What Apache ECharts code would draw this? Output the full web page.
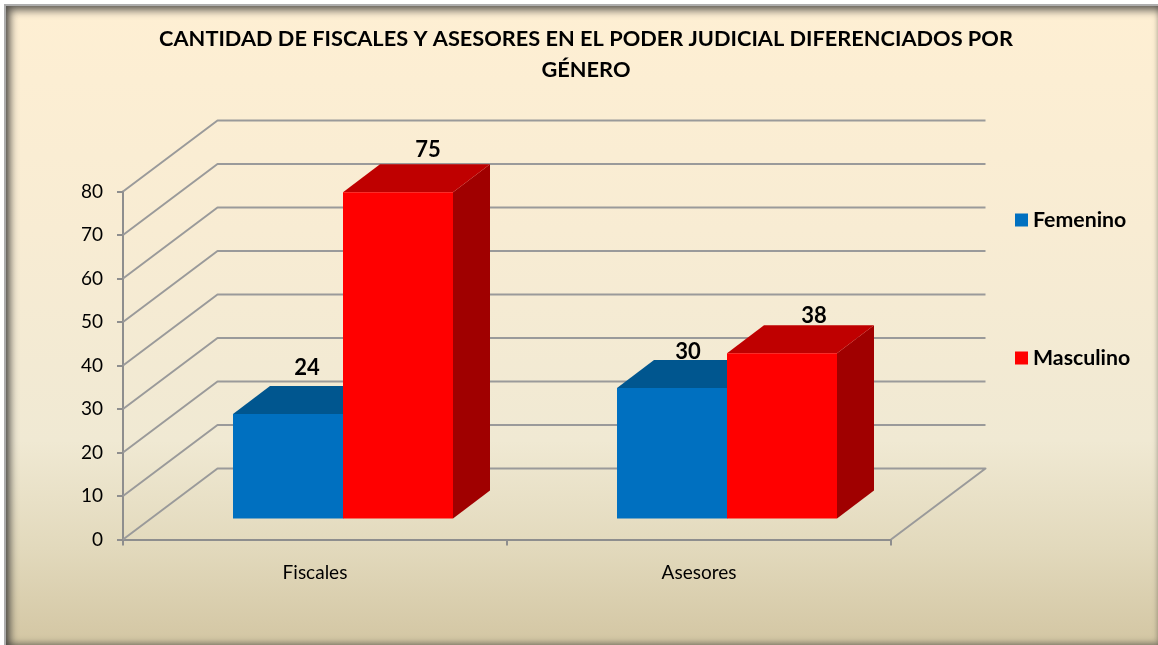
<!DOCTYPE html>
<html>
<head>
<meta charset="utf-8">
<style>
html,body{margin:0;padding:0;background:#fff;width:1158px;height:645px;overflow:hidden}
#frame{position:absolute;left:4px;top:4px;width:1154px;height:641px;box-sizing:border-box;
 border-top:2px solid #aeaeae;border-left:2px solid #aeaeae;
 background:linear-gradient(180deg,#FEEFD3 0%,#F8ECD3 35%,#F0E9D3 68%,#E2D9BC 85%,#D3C6A3 100%);
 box-shadow:inset 5px 5px 9px -1px rgba(50,50,50,.8),inset 0 -3px 6px -1px rgba(50,50,50,.5)}
#chart{position:absolute;left:0;top:0;width:1158px;height:645px}
</style>
</head>
<body>
<div id="frame"></div>
<div id="chart"></div>
<script src="https://cdn.jsdelivr.net/npm/echarts@6/dist/echarts.min.js"></script>
<script>
var titleText = 'CANTIDAD DE FISCALES Y ASESORES EN EL PODER JUDICIAL DIFERENCIADOS POR\nGÉNERO';
var categories = ['Fiscales', 'Asesores'];
var femenino = [24, 30];
var masculino = [75, 38];
var yTicks = [0, 10, 20, 30, 40, 50, 60, 70, 80];

var FONT = 'Lato, "Open Sans", sans-serif';
var WALL = {dx: 94.5, dy: -71};          // floor depth of the fake 3D box
var BAR = {w: 110, dx: 37, dy: -28, fx: 28, fy: -21}; // bar width, bar depth, offset from front edge
var labelNudge = {
  Femenino: [[19, -18], [16, -8]],
  Masculino: [[30, -14], [32, -9]]
};

function wallItem(params, api) {
  var cs = params.coordSys;
  var v = api.value(0);
  var y = api.coord([0, v])[1];
  var x0 = cs.x, x1 = cs.x + cs.width;
  var pts = [[x0, y], [x0 + WALL.dx, y + WALL.dy], [x1 + WALL.dx, y + WALL.dy]];
  if (v === 0) pts.push([x1, y]);
  return {
    type: 'polyline', silent: true,
    shape: {points: pts},
    style: {fill: null, stroke: '#9A9A9A', lineWidth: 2, lineJoin: 'round'}
  };
}

function barRenderer(side, front, top, right) {
  return function (params, api) {
    var cat = api.value(0), val = api.value(1);
    var base = api.coord([cat, 0]);
    var tip = api.coord([cat, val]);
    var cx = base[0] + BAR.fx;
    var xL = side < 0 ? cx - BAR.w : cx;
    var xR = xL + BAR.w;
    var yB = base[1] + BAR.fy;
    var yT = tip[1] + BAR.fy;
    var d = BAR.dx, e = BAR.dy;
    var nudge = labelNudge[params.seriesName][params.dataIndex];
    return {
      type: 'group',
      children: [
        {type: 'polygon', shape: {points: [[xR, yB], [xR + d, yB + e], [xR + d, yT + e], [xR, yT]]}, style: {fill: right}},
        {type: 'polygon', shape: {points: [[xL, yT], [xL + d, yT + e], [xR + d, yT + e], [xR, yT]]}, style: {fill: top}},
        {type: 'rect', shape: {x: xL, y: yT, width: BAR.w, height: yB - yT}, style: {fill: front}},
        {type: 'text', z2: 50, style: {
          x: (xL + xR) / 2 + nudge[0], y: yT + e + nudge[1],
          text: String(val), align: 'center', verticalAlign: 'middle',
          font: 'bold 22px ' + FONT, fill: '#000'
        }}
      ]
    };
  };
}

var chart = echarts.init(document.getElementById('chart'), null, {width: 1158, height: 645});
chart.setOption({
  animation: false,
  backgroundColor: 'transparent',
  title: {
    text: titleText, left: 581, top: 18, textAlign: 'center',
    textStyle: {fontFamily: FONT, fontWeight: 'bold', fontSize: 21.75, lineHeight: 31, color: '#000'}
  },
  legend: {
    orient: 'vertical', left: 1010, top: 204.5, itemWidth: 13, itemHeight: 13, itemGap: 117,
    icon: 'rect', selectedMode: false,
    data: ['Femenino', 'Masculino'],
    textStyle: {fontFamily: FONT, fontWeight: 'bold', fontSize: 21.3, lineHeight: 20, color: '#000', padding: [0, 0, 0, 0]}
  },
  grid: {left: 123, top: 191.5, width: 768, height: 348},
  xAxis: {
    type: 'category', data: categories,
    axisLine: {lineStyle: {color: '#8E8E8E', width: 2}},
    axisTick: {show: true, length: 6, lineStyle: {color: '#8E8E8E', width: 2}},
    axisLabel: {fontFamily: FONT, fontSize: 19, color: '#000', margin: 24}
  },
  yAxis: {
    type: 'value', min: 0, max: 80, interval: 10,
    axisLine: {show: true, lineStyle: {color: '#8E8E8E', width: 2}},
    axisTick: {show: true, length: 6, lineStyle: {color: '#8E8E8E', width: 2}},
    axisLabel: {fontFamily: FONT, fontSize: 19, color: '#000', margin: 20, padding: [2, 0, 0, 0]},
    splitLine: {show: false}
  },
  series: [
    {
      type: 'custom', name: 'walls', silent: true, clip: false, z: 1,
      coordinateSystem: 'cartesian2d',
      data: yTicks.map(function (t) { return [t]; }),
      encode: {y: 0},
      renderItem: wallItem
    },
    {
      type: 'custom', name: 'Femenino', clip: false, z: 2,
      itemStyle: {color: '#0070C0'},
      data: femenino.map(function (v, i) { return [i, v]; }),
      encode: {x: 0, y: 1},
      renderItem: barRenderer(-1, '#0070C0', '#00568F', '#00487A')
    },
    {
      type: 'custom', name: 'Masculino', clip: false, z: 3,
      itemStyle: {color: '#FF0000'},
      data: masculino.map(function (v, i) { return [i, v]; }),
      encode: {x: 0, y: 1},
      renderItem: barRenderer(1, '#FF0000', '#BF0000', '#A00000')
    }
  ]
});
</script>
</body>
</html>
